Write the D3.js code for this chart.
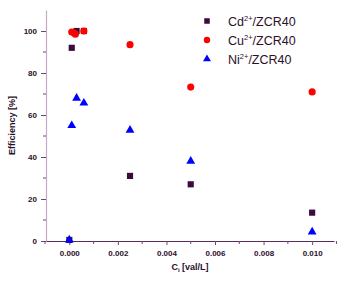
<!DOCTYPE html>
<html>
<head>
<meta charset="utf-8">
<script src="https://cdn.jsdelivr.net/npm/d3@7"></script>
<style>
  body { margin: 0; background: #fff; }
  svg { display: block; font-family: "Liberation Sans", Arial, sans-serif; }
</style>
</head>
<body>
<div id="chart"></div>
<script>
const WIDTH = 340, HEIGHT = 284;

// Concentrations (val/L) and removal efficiencies (%).
const cdConc = [0, 0.0001, 0.0003, 0.0006, 0.0025, 0.005, 0.01];
const cdEff = [0.5, 92, 100, 100, 31, 27, 13.5];
const cuConc = [0.0001, 0.0002, 0.00025, 0.0006, 0.0025, 0.005, 0.01];
const cuEff = [99.5, 99, 98.5, 100, 93.5, 73.3, 71];
const niConc = [0, 0.0001, 0.0003, 0.0006, 0.0025, 0.005, 0.01];
const niEff = [0.5, 55, 68, 65.7, 52.8, 38, 4.3];
const seriesNames = ["Cd", "Cu", "Ni"];
const xTicks = [0, 0.002, 0.004, 0.006, 0.008, 0.01];
const yTicks = [0, 20, 40, 60, 80, 100];

const margin = { left: 46, right: 6, top: 10, bottom: 43 };

const x = d3.scaleLinear().domain([-0.00096, 0.0109])
    .range([margin.left, WIDTH - margin.right]);
const y = d3.scaleLinear().domain([0, 110])
    .range([HEIGHT - margin.bottom, margin.top]);

const svg = d3.select("#chart").append("svg")
    .attr("width", WIDTH).attr("height", HEIGHT);

const textColor = "#2a102a";

// Y axis with major ticks and minor ticks between them.
const yAxis = svg.append("g")
    .attr("transform", `translate(${margin.left},0)`)
    .call(d3.axisLeft(y).tickValues(yTicks).tickFormat(d3.format("d")).tickSize(5).tickPadding(4).tickSizeOuter(0));
yAxis.select(".domain").attr("stroke", "#c4a8c4").attr("stroke-width", 1.2);
yAxis.selectAll(".tick line").attr("stroke", "#6a4a6a");
yAxis.selectAll(".tick text")
    .style("font-size", "8px").style("font-weight", "bold").attr("fill", textColor);
svg.append("g").selectAll("line")
    .data(d3.range(10, 110, 20))
    .join("line")
    .attr("x1", margin.left - 3).attr("x2", margin.left)
    .attr("y1", d => y(d)).attr("y2", d => y(d))
    .attr("stroke", "#6a4a6a");

// X axis.
const xAxis = svg.append("g")
    .attr("transform", `translate(0,${HEIGHT - margin.bottom})`)
    .call(d3.axisBottom(x).tickValues(xTicks).tickFormat(d3.format(".3f")).tickSize(4).tickPadding(5).tickSizeOuter(0));
xAxis.select(".domain").attr("stroke", "#5a2a5a").attr("stroke-width", 1.2);
xAxis.selectAll(".tick line").attr("stroke", "#6a4a6a");
xAxis.selectAll(".tick text")
    .style("font-size", "8px").style("font-weight", "bold").attr("fill", textColor);
svg.append("g").selectAll("line")
    .data(d3.range(-0.001, 0.0111, 0.002))
    .join("line")
    .attr("x1", d => x(d)).attr("x2", d => x(d))
    .attr("y1", HEIGHT - margin.bottom).attr("y2", HEIGHT - margin.bottom + 3)
    .attr("stroke", "#6a4a6a");

// Axis titles.
svg.append("text")
    .attr("transform", `translate(15,${y(55)}) rotate(-90)`)
    .attr("text-anchor", "middle")
    .style("font-size", "9px").style("font-weight", "bold").attr("fill", textColor)
    .text("Efficiency [%]");

const xTitle = svg.append("text")
    .attr("x", 190).attr("y", 270)
    .attr("text-anchor", "middle")
    .style("font-size", "9px").style("font-weight", "bold").attr("fill", textColor);
xTitle.append("tspan").text("C");
xTitle.append("tspan").attr("dy", 2).style("font-size", "6px").text("i");
xTitle.append("tspan").attr("dy", -2).text(" [val/L]");

// Marker shapes per ion.
const symbols = {
    Cd: { type: d3.symbolSquare, size: 38, color: "#3c0a3c" },
    Cu: { type: d3.symbolCircle, size: 40, color: "#ff0000" },
    Ni: { type: d3.symbolTriangle, size: 34, color: "#0000ff" }
};

const series = [
    { name: "Cd", conc: cdConc, eff: cdEff },
    { name: "Cu", conc: cuConc, eff: cuEff },
    { name: "Ni", conc: niConc, eff: niEff }
];

series.forEach(s => {
    const sym = symbols[s.name];
    svg.append("g").selectAll("path")
        .data(s.conc.map((c, i) => [c, s.eff[i]]))
        .join("path")
        .attr("d", d3.symbol().type(sym.type).size(sym.size))
        .attr("transform", d => `translate(${x(d[0])},${y(d[1])})`)
        .attr("fill", sym.color);
});

// Legend in the upper right.
const legend = svg.append("g").attr("transform", "translate(207,21)");
seriesNames.forEach((name, i) => {
    const sym = symbols[name];
    const row = legend.append("g").attr("transform", `translate(0,${i * 19})`);
    row.append("path")
        .attr("d", d3.symbol().type(sym.type).size(sym.size * 0.8))
        .attr("fill", sym.color);
    const t = row.append("text")
        .attr("x", 21).attr("y", 4.5)
        .style("font-size", "12.5px").attr("fill", textColor);
    t.append("tspan").text(name);
    t.append("tspan").attr("dy", -5).style("font-size", "7.5px").text("2+");
    t.append("tspan").attr("dy", 5).text("/ZCR40");
});
</script>
</body>
</html>
